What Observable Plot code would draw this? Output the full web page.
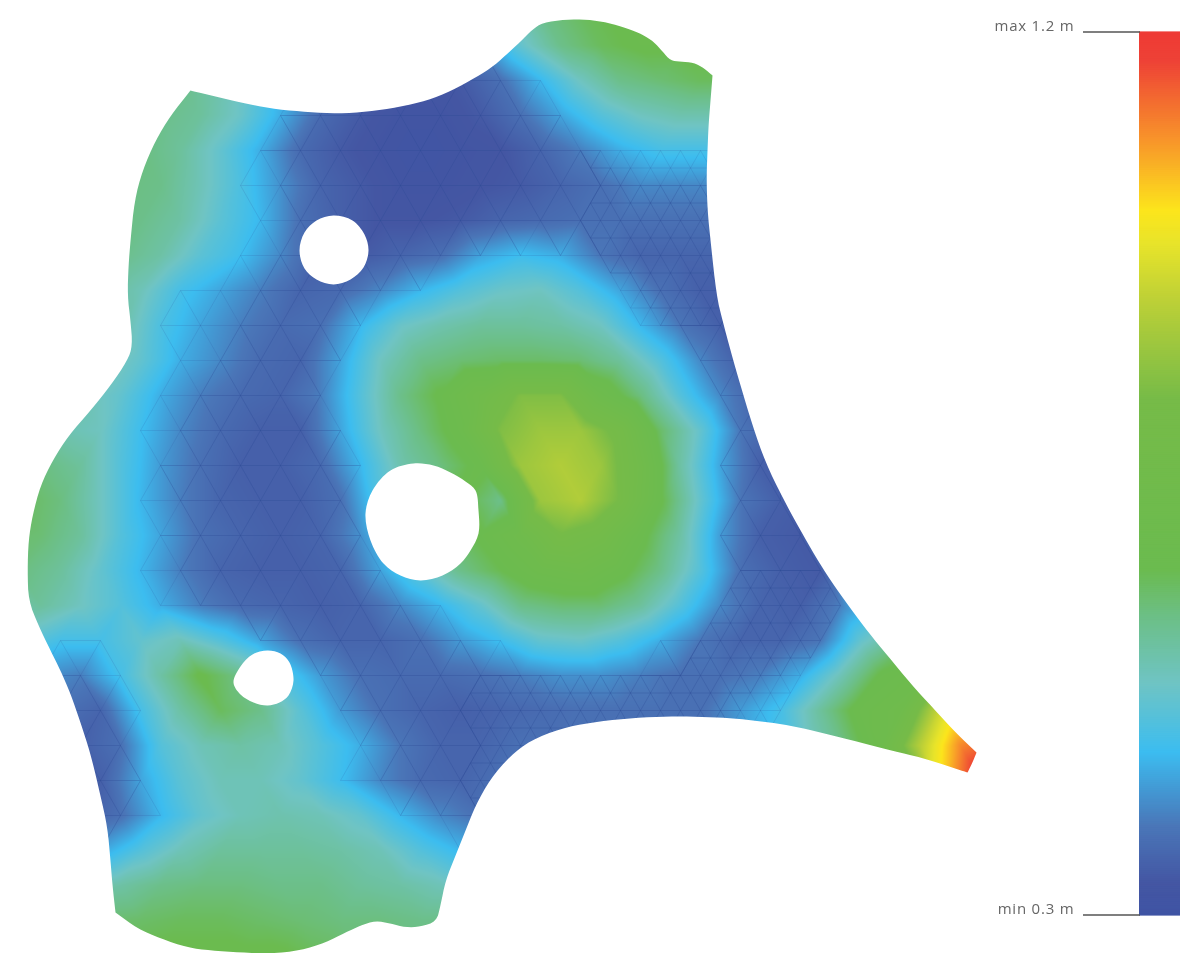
<!DOCTYPE html>
<html><head><meta charset="utf-8">
<style>html,body{margin:0;padding:0;background:#fff}svg{display:block;filter:blur(0.6px)}svg text{letter-spacing:.8px}</style>
<script src="https://cdn.jsdelivr.net/npm/d3@7"></script>
<script src="https://cdn.jsdelivr.net/npm/@observablehq/plot@0.6"></script>
</head><body><div id="chart"></div>
<script>
// Colour ramp (metres -> colour)
const rampValues = [0.30,0.332,0.39,0.466,0.536,0.605,0.652,0.825,0.925,0.984,1.018,1.088,1.17,1.20];
const rampColors = ["#3f54a4","#4456a3","#4a76b8","#3cbdf0","#6fc4c4","#6cbf85","#6bbb4f","#76bb48","#bcd037","#e8e42a","#fce51c","#f8962a","#ee4236","#ee3a35"];
// Sampled values (cm) on a staggered lattice of mesh nodes
const rowY = [10,45,80,115,150,185,220,255,290,325,360,395,430,465,500,535,570,605,640,675,710,745,780,815,850,885,920,955];
const rowX0 = [500,480,140,120,100,120,100,120,100,120,100,80,60,40,20,40,20,40,20,40,60,80,60,80,100,80,100,120];
const rowValues = [
[56,60,64,66,68,68],
[42,52,60,64,66,66,66],
[60,60,56,50,44,38,34,33,34,38,46,54,60,62,64,64],
[60,60,58,53,45,37,34,32,32,34,38,44,50,54,56,56],
[62,61,58,52,45,37,34,32,31,32,33,36,40,45,48,48,48],
[61,60,55,49,42,36,34,32,32,33,34,36,38,41,41,41],
[61,60,57,51,46,38,35,33,33,34,36,37,38,38,38,38,38],
[60,57,51,47,41,35,34,36,38,44,47,45,39,36,36,36],
[59,55,48,44,40,36,37,41,46,50,53,54,50,44,38,35,35],
[57,49,44,40,37,38,46,53,56,58,58,57,54,46,39,35],
[57,52,45,41,37,36,44,54,60,62,63,63,62,58,50,41,35],
[56,52,45,40,37,36,40,50,60,66,74,84,84,70,61,50,41,35],
[56,54,47,41,37,35,35,44,54,61,68,84,88,88,80,63,52,39,35],
[61,58,50,43,38,35,35,37,46,56,61,67,88,91,88,75,57,44,35],
[64,61,54,46,40,36,35,35,38,50,60,66,60,88,91,82,66,52,39,35],
[62,58,50,44,38,36,35,36,42,50,60,66,72,82,78,67,57,43,35,34],
[61,58,52,46,40,36,35,35,36,44,52,60,65,70,72,67,60,50,38,35,34],
[58,54,50,45,40,37,36,35,36,41,46,52,60,62,62,58,50,41,36,35,40],
[52,48,48,52,55,50,44,38,36,36,38,43,47,52,53,50,45,39,36,36,39,52,60],
[42,40,48,57,66,60,50,43,38,37,37,38,40,42,42,40,38,38,40,45,55,66,70],
[38,36,48,57,64,60,51,43,38,36,35,36,37,38,38,38,38,43,48,58,68,72,95,105],
[35,38,50,55,57,55,50,45,39,36,36,38,38,38,38,38,40,46,52,60,70,92,110],
[34,35,44,51,55,55,52,47,41,37,36,38,38,38,38,38,38,40,46,52,60,72,102,122],
[34,38,46,52,55,56,55,52,46,41,38],
[44,50,55,58,58,58,57,55,50,46],
[55,57,60,61,61,60,60,58,57,55],
[62,63,64,64,63,62,61,61,60,60],
[65,66,66,66,66,64,62]
];
const outline = [[190,90],[190,90],[215,96],[240,102],[270,108],[300,111],[330,113],[360,112],[390,108],[420,102],[445,93],[470,80],[490,68],[505,55],[520,41],[532,29],[542,22],[565,19],[587,19],[607,22],[627,28],[642,34],[653,41],[662,51],[670,60],[680,61],[693,62],[704,68],[712,75],[712,75],[710,100],[708,125],[707,150],[706,177],[707,210],[710,240],[716,295],[722,320],[730,350],[740,385],[752,425],[765,462],[782,497],[800,530],[815,556],[830,580],[850,608],[868,632],[887,655],[910,683],[933,708],[955,732],[976,752],[976,752],[972,762],[967,772],[967,772],[952,767],[937,762],[920,757],[903,753],[860,742],[820,732],[795,726],[770,722],[745,719],[720,717],[690,716],[660,716],[625,718],[590,722],[560,728],[530,740],[510,755],[490,778],[475,805],[465,830],[455,855],[445,880],[440,905],[436,921],[420,926],[405,927],[390,923],[375,920],[360,925],[345,932],[325,942],[300,950],[270,953],[240,952],[210,950],[187,947],[160,938],[137,928],[115,912],[115,912],[112,885],[110,860],[107,827],[100,795],[90,753],[80,722],[70,693],[60,670],[50,650],[38,625],[28,600],[27,570],[28,540],[32,515],[40,485],[52,460],[68,435],[90,410],[110,385],[127,360],[132,345],[130,320],[127,295],[128,265],[130,240],[134,200],[142,170],[155,140],[170,115],[190,90],[190,90]];
const holeA = [[333,215],[352,220],[364,234],[368,250],[363,267],[350,279],[333,284],[316,279],[304,268],[299,250],[304,232],[316,220]];
const holeB = [[413,463],[433,465],[450,472],[465,481],[475,490],[478,510],[478,533],[470,550],[460,563],[442,575],[420,580],[400,575],[383,563],[370,540],[365,513],[372,490],[390,470]];
const holeC = [[267,650],[280,653],[289,662],[293,680],[288,695],[279,702],[267,705],[253,702],[240,694],[233,682],[240,666],[252,654]];
const barTicks = [{label:"max 1.2 m",value:1.2},{label:"min 0.3 m",value:0.3}];

const nodes = rowValues.flatMap((vals,r)=>vals.map((v,c)=>({x:rowX0[r]+40*c,y:rowY[r],v:v/100})));
// mesh edges of the blue zone, finer where the reference mesh is finer
const del = d3.Delaunay.from(nodes,d=>d.x,d=>d.y);
const seen=new Map();
const addEdge=(a,b)=>{const k=[a.x,a.y,b.x,b.y].join();const k2=[b.x,b.y,a.x,a.y].join();
  if(!seen.has(k)&&!seen.has(k2)) seen.set(k,{x1:a.x,y1:a.y,x2:b.x,y2:b.y,v:(a.v+b.v)/2});};
const mid=(a,b)=>({x:(a.x+b.x)/2,y:(a.y+b.y)/2,v:(a.v+b.v)/2});
const fineZone=p=>(p.x>560&&p.y<330)||(p.x>690&&p.y>540)||(p.y>650&&p.x>440);
for(let t=0;t<del.triangles.length;t+=3){
  const a=nodes[del.triangles[t]],b=nodes[del.triangles[t+1]],c=nodes[del.triangles[t+2]];
  if(a.v>=.5||b.v>=.5||c.v>=.5) continue;
  if(fineZone(a)&&fineZone(b)&&fineZone(c)){
    const ab=mid(a,b),bc=mid(b,c),ca=mid(c,a);
    [[a,ab],[ab,b],[b,bc],[bc,c],[c,ca],[ca,a],[ab,bc],[bc,ca],[ca,ab]].forEach(([p,q])=>addEdge(p,q));
  } else {addEdge(a,b);addEdge(b,c);addEdge(c,a);}
}
const edges=[...seen.values()];
// Corner cutting so the sampled outline reads as a smooth curve
const smooth=pts=>{let out=[pts[0]];for(let i=0;i<pts.length-1;i++){const[p,q]=[pts[i],pts[i+1]];
  out.push([.75*p[0]+.25*q[0],.75*p[1]+.25*q[1]],[.25*p[0]+.75*q[0],.25*p[1]+.75*q[1]]);}out.push(pts[pts.length-1]);return out;};
const fineOutline=smooth(smooth(outline));
const ring=[[-5,-5],[1000,-5],[1000,958],[-5,958],[-5,-5],...fineOutline.slice().reverse(),[-5,-5]];
const holes=[holeA,holeB,holeC].flatMap((h,i)=>h.map(p=>({x:p[0],y:p[1],z:i})));
const barY=v=>915-(v-0.3)/0.9*883;
const barLevels=d3.range(0.3,1.2,0.002);
const plot=Plot.plot({
  width:1183,height:953,margin:0,
  x:{domain:[0,1183],range:[0,1183],axis:null},
  y:{domain:[0,953],range:[0,953],axis:null},
  color:{type:"linear",domain:rampValues,range:rampColors,legend:false},
  opacity:{type:"identity"},
  marks:[
    Plot.raster(nodes,{x:"x",y:"y",fill:"v",interpolate:"barycentric",x1:0,x2:995,y1:0,y2:953}),
    Plot.link(edges,{x1:"x1",y1:"y1",x2:"x2",y2:"y2",stroke:"#2a4a96",strokeOpacity:d=>d.v<.42?0.38:0.2,strokeWidth:0.8}),
    Plot.line(ring,{x:d=>d[0],y:d=>d[1],fill:"white",stroke:"none"}),
    Plot.line(holes,{x:"x",y:"y",z:"z",fill:"white",stroke:"none",curve:"catmull-rom-closed"}),
    Plot.rect(barLevels,{x1:1139,x2:1180,y1:d=>barY(d)+0.6,y2:d=>barY(d+0.002)-0.6,fill:d=>d}),
    Plot.ruleY(barTicks,{y:d=>barY(d.value)-0.5,x1:1083,x2:1140,stroke:"#555",strokeWidth:1.3}),
    Plot.text(barTicks,{x:1074,y:d=>barY(d.value)-6,text:"label",textAnchor:"end",fontSize:15,fontFamily:"Open Sans",fill:"#666"})
  ]
});
document.getElementById("chart").append(plot);
</script></body></html>
